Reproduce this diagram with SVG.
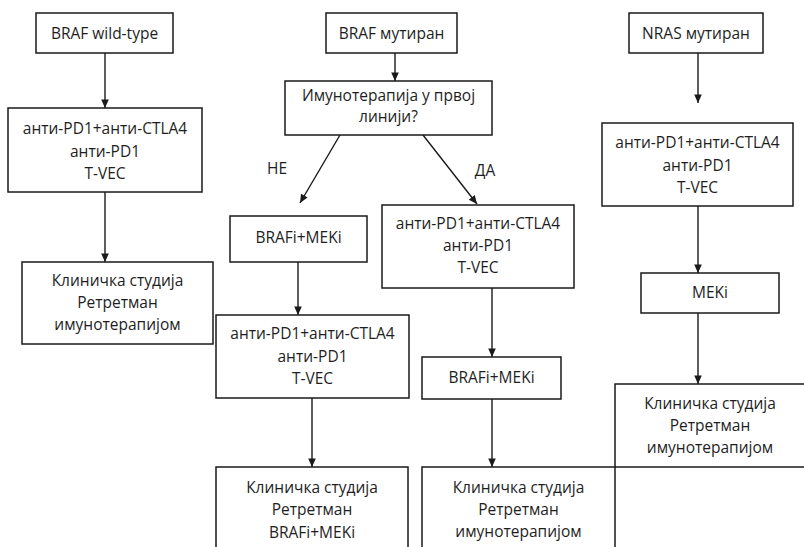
<svg xmlns="http://www.w3.org/2000/svg" width="804" height="547" viewBox="0 0 804 547">
<defs>
<marker id="ah" markerUnits="userSpaceOnUse" markerWidth="10" markerHeight="10" viewBox="0 0 10 10" refX="9" refY="5" orient="auto">
<path d="M0.5,1.2 L9,5 L0.5,8.8 Z" fill="#1a1a1a"/>
</marker>
<style>
rect{fill:#fff;stroke:#1a1a1a;stroke-width:1.5}
text{font-family:"Open Sans","Noto Sans","Liberation Sans",sans-serif;font-size:15.5px;fill:#1e1e1e;text-anchor:middle}
.c line{stroke:#1a1a1a;stroke-width:1.4;marker-end:url(#ah)}
</style>
</defs>
<rect x="0" y="0" width="804" height="547" style="fill:#fff;stroke:none"/>
<g class="c" id="connectors">
<line x1="105" y1="53" x2="105" y2="108"/>
<line x1="105" y1="192" x2="105" y2="262"/>
<line x1="395" y1="53" x2="395" y2="81"/>
<line x1="340" y1="135" x2="300" y2="203"/>
<line x1="423" y1="135" x2="477" y2="204"/>
<line x1="298" y1="262" x2="298" y2="315"/>
<line x1="312" y1="398" x2="312" y2="467"/>
<line x1="492" y1="288" x2="492" y2="357"/>
<line x1="492" y1="399" x2="492" y2="467"/>
<line x1="698" y1="53" x2="698" y2="103"/>
<line x1="698" y1="206" x2="698" y2="273"/>
<line x1="698" y1="313" x2="698" y2="384"/>
</g>
<g id="braf-wt"><rect x="36" y="13" width="137" height="40"/><text x="104.5" y="38.5">BRAF wild-type</text></g>
<g id="wt-therapy"><rect x="8" y="108" width="194" height="84"/><text x="105" y="133.5">анти-PD1+анти-CTLA4</text><text x="105" y="156.5">анти-PD1</text><text x="105" y="178.5">T-VEC</text></g>
<g id="wt-final"><rect x="22" y="262" width="191" height="82"/><text x="117.5" y="285.5">Клиничка студија</text><text x="117.5" y="308">Ретретман</text><text x="117.5" y="329.5">имунотерапијом</text></g>
<g id="braf-mut"><rect x="326" y="13" width="131" height="40"/><text x="391.5" y="38.5">BRAF мутиран</text></g>
<g id="question"><rect x="285" y="81" width="207" height="54"/><text x="388.5" y="100.5">Имунотерапија  у првој</text><text x="388.5" y="121.5">линији?</text></g>
<text x="277" y="173.5">НЕ</text>
<text x="485" y="175.5">ДА</text>
<g id="no-brafmek"><rect x="230" y="216" width="137" height="46"/><text x="298.5" y="242.5">BRAFi+MEKi</text></g>
<g id="no-immuno"><rect x="216" y="315" width="193" height="83"/><text x="312.5" y="338.5">анти-PD1+анти-CTLA4</text><text x="312.5" y="361.5">анти-PD1</text><text x="312.5" y="383.5">T-VEC</text></g>
<g id="no-final"><rect x="216" y="467" width="192" height="100"/><text x="312" y="492.5">Клиничка студија</text><text x="312" y="514.5">Ретретман</text><text x="312" y="537.5">BRAFi+MEKi</text></g>
<g id="yes-immuno"><rect x="382" y="205" width="192" height="83"/><text x="478" y="228.5">анти-PD1+анти-CTLA4</text><text x="478" y="250.5">анти-PD1</text><text x="478" y="272.5">T-VEC</text></g>
<g id="yes-brafmek"><rect x="422" y="357" width="139" height="42"/><text x="491.5" y="382.5">BRAFi+MEKi</text></g>
<g id="nras-final"><rect x="615" y="384" width="200" height="83"/><text x="710" y="408.5">Клиничка студија</text><text x="710" y="430.5">Ретретман</text><text x="710" y="453">имунотерапијом</text></g>
<g id="yes-final"><rect x="422" y="467" width="193" height="100"/><text x="518.5" y="492.5">Клиничка студија</text><text x="518.5" y="514.5">Ретретман</text><text x="518.5" y="537">имунотерапијом</text></g>
<g id="nras"><rect x="629" y="13" width="134" height="40"/><text x="696" y="38.5">NRAS мутиран</text></g>
<g id="nras-immuno"><rect x="602" y="123" width="191" height="83"/><text x="697.5" y="147.5">анти-PD1+анти-CTLA4</text><text x="697.5" y="170.5">анти-PD1</text><text x="697.5" y="192.5">T-VEC</text></g>
<g id="nras-mek"><rect x="641" y="273" width="138" height="40"/><text x="710" y="297.5">MEKi</text></g>
</svg>
